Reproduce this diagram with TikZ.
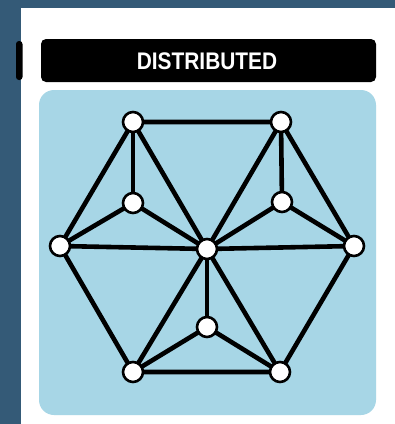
\documentclass[tikz,border=0pt]{standalone}
\usepackage{fontspec}
\newfontfamily\hdrfont{Liberation Sans}
\definecolor{darkband}{HTML}{345A77}
\definecolor{panelblue}{HTML}{A7D6E6}
\pgfdeclarelayer{back}
\pgfdeclarelayer{mid}
\pgfsetlayers{back,mid,main}
\tikzset{
  vert/.style={circle,draw=black,fill=white,line width=2.6pt,minimum size=20pt,inner sep=0pt},
  edge/.style={line width=4.6pt,black},
}
\begin{document}
\begin{tikzpicture}[x=1pt,y=-1pt]
\useasboundingbox (0,0) rectangle (395,424);
\begin{pgfonlayer}{back}
\fill[white] (0,0) rectangle (395,424);
\fill[darkband] (0,0) rectangle (395,8);
\fill[darkband] (0,0) rectangle (21,424);
\fill[black,rounded corners=3pt] (16,41) rectangle (22.5,80);
\fill[black,rounded corners=5pt] (41,39) rectangle (376,82);
\fill[panelblue,rounded corners=15pt] (39,90) rectangle (376,415);
\end{pgfonlayer}
\node[text=white,font=\hdrfont\bfseries\fontsize{24}{26}\selectfont] (title) at (207,61.5) {\scalebox{0.87}[1]{DISTRIBUTED}};
\node[vert] (TL) at (133,122) {};
\node[vert] (TR) at (281,122) {};
\node[vert] (L) at (60,246) {};
\node[vert] (R) at (354,246) {};
\node[vert] (BL) at (133,372) {};
\node[vert] (BR) at (280,372) {};
\node[vert] (C) at (207,249) {};
\node[vert] (IL) at (133,203) {};
\node[vert] (IR) at (282,202) {};
\node[vert] (IB) at (207,327) {};
\begin{pgfonlayer}{mid}
\draw[edge] (TL.center) -- (TR.center) -- (R.center) -- (BR.center) -- (BL.center) -- (L.center) -- cycle;
\foreach \v in {TL,TR,L,R,BL,BR,IL,IR,IB} \draw[edge] (C.center) -- (\v.center);
\draw[edge] (IL.center) -- (TL.center);
\draw[edge] (IL.center) -- (L.center);
\draw[edge] (IR.center) -- (TR.center);
\draw[edge] (IR.center) -- (R.center);
\draw[edge] (IB.center) -- (BL.center);
\draw[edge] (IB.center) -- (BR.center);
\end{pgfonlayer}
\end{tikzpicture}
\end{document}
